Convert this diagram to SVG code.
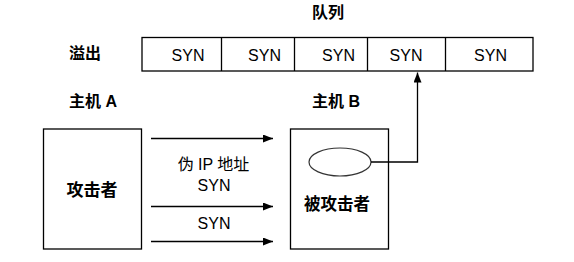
<svg xmlns="http://www.w3.org/2000/svg" width="574" height="262" viewBox="0 0 574 262">
<defs>
<style>
.box{fill:#fff;stroke:#000;stroke-width:1.3}
.ln{fill:none;stroke:#000;stroke-width:1.3}
.syn{font-family:"Liberation Sans",Arial,sans-serif;font-size:16px;fill:#000;text-anchor:middle}
.cn{font-family:"Liberation Sans","Noto Sans CJK SC",sans-serif;font-size:16px;font-weight:bold;fill:#000}
.cnr{font-family:"Liberation Sans","Noto Sans CJK SC",sans-serif;font-size:16px;fill:#000;text-anchor:middle}
</style>
<marker id="ah" viewBox="0 0 10 8" refX="10" refY="4" markerWidth="10" markerHeight="8" markerUnits="userSpaceOnUse" orient="auto">
<path d="M0,0 L10,4 L0,8 Z" fill="#000"/>
</marker>
</defs>
<rect width="574" height="262" fill="#fff"/>
<text class="cn" x="312" y="18">队列</text>
<text class="cn" x="69" y="59">溢出</text>
<text class="cn" x="69" y="106.5">主机 A</text>
<text class="cn" x="312" y="106.5">主机 B</text>
<g id="queue">
<rect class="box" x="142" y="37.5" width="391" height="33.5"/>
<line class="ln" x1="221.5" y1="37.5" x2="221.5" y2="71"/>
<line class="ln" x1="294.5" y1="37.5" x2="294.5" y2="71"/>
<line class="ln" x1="367.5" y1="37.5" x2="367.5" y2="71"/>
<line class="ln" x1="445.5" y1="37.5" x2="445.5" y2="71"/>
<text class="syn" x="188" y="61">SYN</text>
<text class="syn" x="264.5" y="61">SYN</text>
<text class="syn" x="338.5" y="61">SYN</text>
<text class="syn" x="406" y="61">SYN</text>
<text class="syn" x="490.5" y="61">SYN</text>
</g>
<g id="hostA">
<rect class="box" x="43.5" y="129" width="98" height="120"/>
<text class="cn" x="92" y="196" style="font-size:17px;text-anchor:middle">攻击者</text>
</g>
<g id="hostB">
<rect class="box" x="290.5" y="129" width="98" height="120"/>
<ellipse cx="340" cy="162" rx="31" ry="14" fill="#fff" stroke="#333" stroke-width="1.2"/>
<text class="cn" x="337" y="209.5" style="font-size:16.5px;text-anchor:middle">被攻击者</text>
</g>
<g id="connectors">
<line class="ln" x1="151" y1="138.5" x2="273" y2="138.5" marker-end="url(#ah)"/>
<line class="ln" x1="151" y1="206.5" x2="273" y2="206.5" marker-end="url(#ah)"/>
<line class="ln" x1="151" y1="241.5" x2="273" y2="241.5" marker-end="url(#ah)"/>
<polyline class="ln" points="371,162 417.5,162 417.5,72.5" marker-end="url(#ah)"/>
<text class="cnr" x="213.5" y="169.5">伪 IP 地址</text>
<text class="syn" x="214" y="191">SYN</text>
<text class="syn" x="214" y="228.5">SYN</text>
</g>
</svg>
